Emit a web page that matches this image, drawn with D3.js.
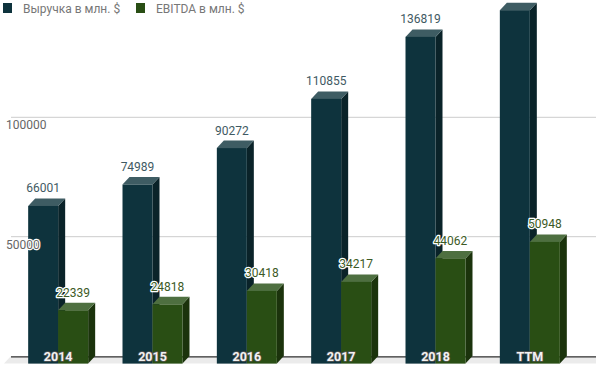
<!DOCTYPE html>
<html><head><meta charset="utf-8">
<script src="https://cdn.jsdelivr.net/npm/d3@7"></script>
<style>body{margin:0;background:#fff}svg{display:block;font-family:Roboto,sans-serif}</style>
</head><body><svg id="c" width="596" height="365"></svg>
<script>
const categories = ["2014","2015","2016","2017","2018","TTM"];
const seriesNames = ["Выручка в млн. $","EBITDA в млн. $"];
const revenue = [66001,74989,90272,110855,136819,148000];
const ebitda = [22339,24818,30418,34217,44062,50948];
const yTicks = [50000,100000];

const colors = [
  {front:"#0e333d", side:"#0a2329", top:"#3e5c63", label:"#3f5a63"},
  {front:"#294e14", side:"#1b330c", top:"#4e6f40", label:"#3c5a25"}
];
const W=596,H=365, dx=7, dy=7.5;
const svg=d3.select("#c");
const x0=d3.scaleBand().domain(categories).range([11,577]).paddingInner(0.364).paddingOuter(0.182);
const x1=d3.scaleBand().domain([0,1]).range([0,x0.bandwidth()]);
const y=d3.scaleLinear().domain([0,50000]).range([363.6,363.6-119.4]);
const series=[revenue,ebitda];

// floor
const yb0=y(0)-dy;
svg.append("polygon").attr("points",[[11,yb0],[W,yb0],[W,y(0)],[11-dx,y(0)]].map(p=>p.join(",")).join(" ")).attr("fill","#ebebeb");
// grid
yTicks.forEach(t=>{
  svg.append("line").attr("x1",11).attr("x2",W).attr("y1",y(t)-dy).attr("y2",y(t)-dy).attr("stroke","#cccccc").attr("stroke-width",1);
});
svg.append("line").attr("x1",11).attr("x2",W).attr("y1",yb0+0.8).attr("y2",yb0+0.8).attr("stroke","#333").attr("stroke-width",1.2);

// bars
categories.forEach((c,i)=>{
  series.forEach((s,j)=>{
    const v=s[i], xl=x0(c)+x1(j), xr=xl+x1.bandwidth(), yt=y(v), yb=y(0), col=colors[j];
    const g=svg.append("g");
    g.append("polygon").attr("points",[[xr,yt],[xr+dx,yt-dy],[xr+dx,yb-dy],[xr,yb]].map(p=>p.join(",")).join(" ")).attr("fill",col.side);
    g.append("polygon").attr("points",[[xl,yt],[xl+dx,yt-dy],[xr+dx,yt-dy],[xr,yt]].map(p=>p.join(",")).join(" ")).attr("fill",col.top);
    g.append("rect").attr("x",xl).attr("y",yt).attr("width",xr-xl).attr("height",yb-yt).attr("fill",col.front);
  });
});
// value labels (labels that would fall above the chart area are not shown, as in the reference)
categories.forEach((c,i)=>{
  series.forEach((s,j)=>{
    const v=s[i], cx=x0(c)+x1(j)+x1.bandwidth()/2, ly=y(v)-dy-6;
    if (ly < 14) return;
    svg.append("text").attr("x",cx).attr("y",ly).attr("text-anchor","middle")
      .attr("font-size",12).attr("fill",colors[j].label)
      .attr("stroke","#fff").attr("stroke-width",2.5).attr("stroke-linejoin","round").attr("paint-order","stroke")
      .text(v);
  });
});
// category labels
categories.forEach(c=>{
  svg.append("text").attr("x",x0(c)+x0.bandwidth()/2).attr("y",360.5).attr("text-anchor","middle")
    .attr("font-size",12.5).attr("font-weight","bold").attr("fill","#f2f2f2")
    .attr("stroke","#555").attr("stroke-width",1.6).attr("stroke-linejoin","round").attr("paint-order","stroke")
    .text(c);
});
// y labels
yTicks.forEach(t=>{
  svg.append("text").attr("x",6).attr("y",y(t)-dy+12).attr("font-size",12).attr("fill","#666")
    .attr("stroke","#fff").attr("stroke-width",2.5).attr("stroke-linejoin","round").attr("paint-order","stroke")
    .text(t);
});
// legend
const lx=[3,136];
seriesNames.forEach((n,j)=>{
  svg.append("rect").attr("x",lx[j]).attr("y",3).attr("width",9).attr("height",10).attr("fill",colors[j].front);
  svg.append("text").attr("x",lx[j]+20).attr("y",12.5).attr("font-size",12).attr("fill","#777").text(n);
});
</script></body></html>
